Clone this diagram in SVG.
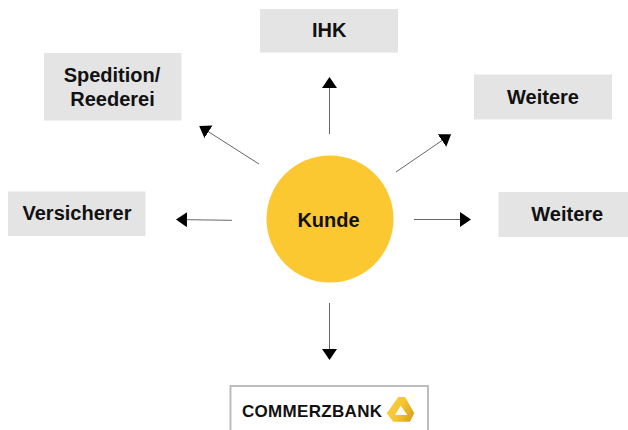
<svg xmlns="http://www.w3.org/2000/svg" width="628" height="430" viewBox="0 0 628 430">
<defs>
<marker id="ah" markerUnits="userSpaceOnUse" markerWidth="12" markerHeight="16" refX="0" refY="7.500" orient="auto"><path d="M0 0L11 7.500L0 15Z" fill="#000"/></marker>
<linearGradient id="gold" x1="0" y1="0" x2="1" y2="0.400"><stop offset="0" stop-color="#f9cf45"/><stop offset="0.600" stop-color="#f6c52f"/><stop offset="1" stop-color="#dda821"/></linearGradient>
</defs>
<style>
.box{fill:#e4e4e4}
.t{font-family:"Liberation Sans",Arial,sans-serif;font-weight:700;font-size:20px;fill:#111;text-anchor:middle}
.c{stroke:#666;stroke-width:1;fill:none;marker-end:url(#ah)}
</style>
<rect width="628" height="430" fill="#fff"/>
<g id="connectors">
<line class="c" x1="329.500" y1="134" x2="329.500" y2="88"/>
<line class="c" x1="259" y1="164" x2="208.500" y2="131.800"/>
<line class="c" x1="396" y1="172" x2="442" y2="140.500"/>
<line class="c" x1="232" y1="220.300" x2="187" y2="219.700"/>
<line class="c" x1="414" y1="219.500" x2="460" y2="219.500"/>
<line class="c" x1="329.500" y1="303" x2="329.500" y2="349"/>
</g>
<g id="kunde"><circle cx="330" cy="219" r="63.500" fill="#fcc832"/><text class="t" x="328.500" y="227">Kunde</text></g>
<g id="ihk"><rect class="box" x="260" y="9" width="138" height="43.500"/><text class="t" x="329.300" y="37">IHK</text></g>
<g id="spedition"><rect class="box" x="44" y="53" width="137.500" height="67.500"/><text class="t" x="112" y="82">Spedition/</text><text class="t" x="112.500" y="105.500">Reederei</text></g>
<g id="weitere1"><rect class="box" x="474" y="74.500" width="138" height="45"/><text class="t" x="543" y="103.500">Weitere</text></g>
<g id="versicherer"><rect class="box" x="8" y="191.500" width="137.500" height="44.500"/><text class="t" x="77" y="220">Versicherer</text></g>
<g id="weitere2"><rect class="box" x="498.500" y="192" width="129.500" height="45"/><text class="t" x="567.300" y="221">Weitere</text></g>
<g id="commerzbank">
<path d="M230.500 430V386H428V430" fill="#fff" stroke="#bdbdbd" stroke-width="2"/>
<text x="242" y="417" font-family="'Liberation Sans',Arial,sans-serif" font-weight="700" font-size="17" textLength="140" lengthAdjust="spacing" fill="#111">COMMERZBANK</text>
<path d="M398.300 397H405L414.300 413.300L410 421.700H393.300L386.700 413.300ZM400.700 405.700L395 415H407.300Z" fill="url(#gold)" fill-rule="evenodd"/>
</g>
</svg>
